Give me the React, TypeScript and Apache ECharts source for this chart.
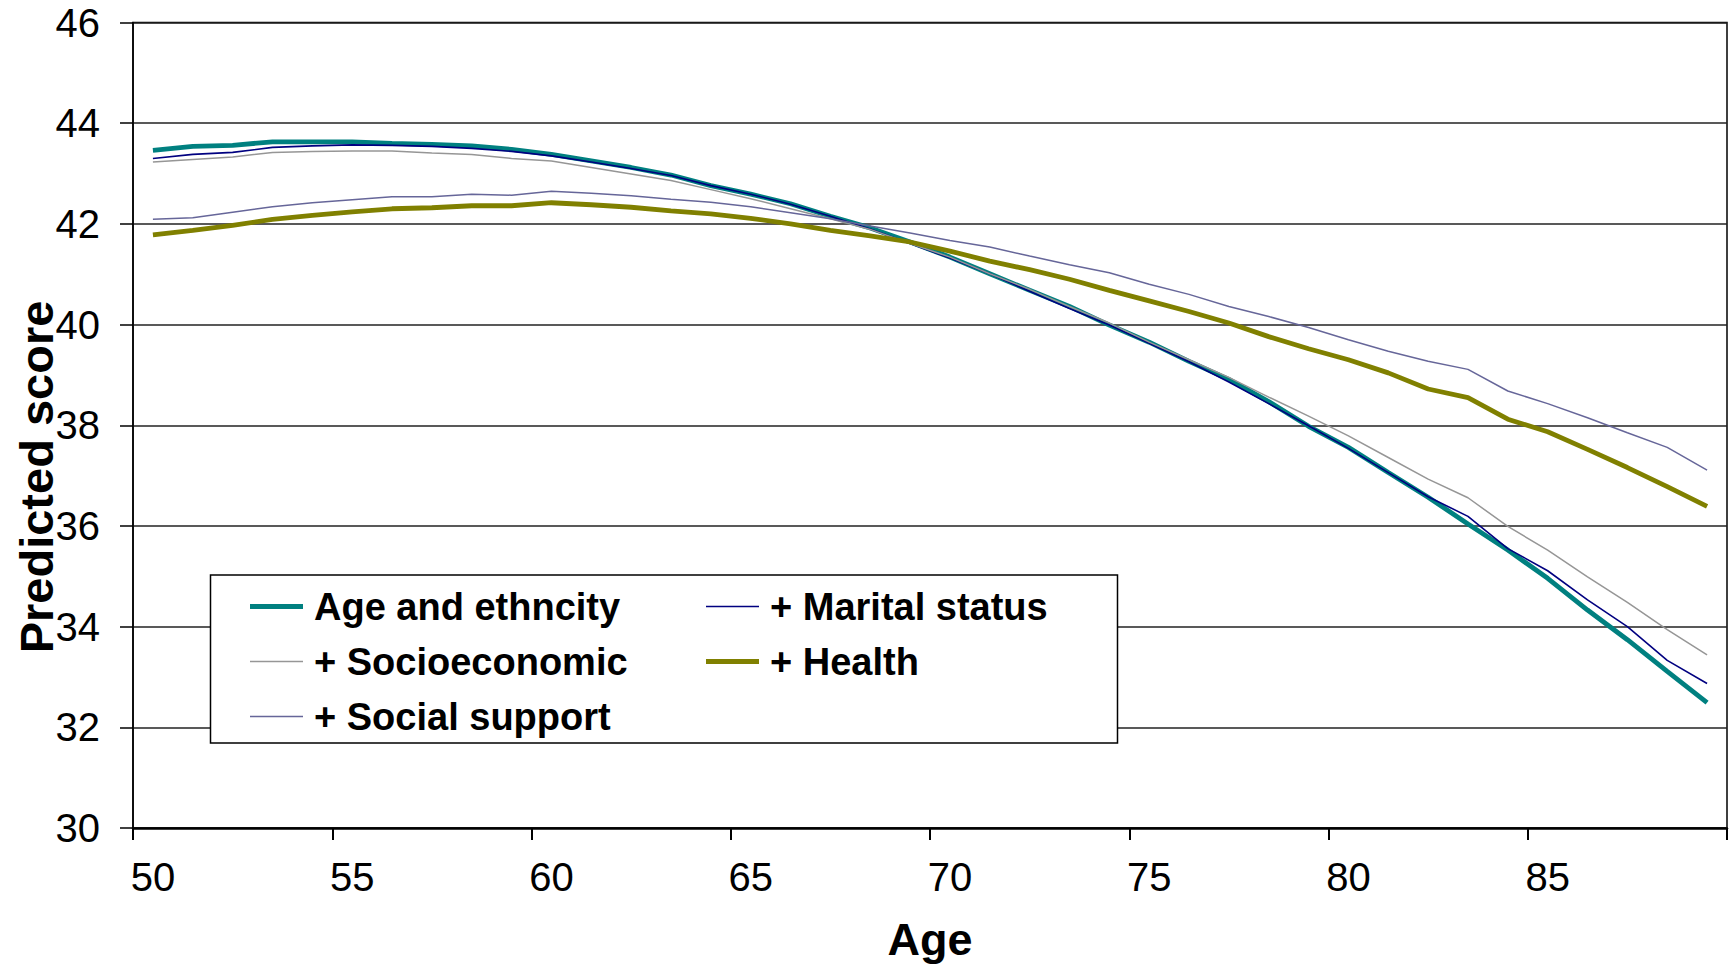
import React, { useEffect, useRef } from "react";
import * as echarts from "echarts";

const FONT = '"Liberation Sans", Arial, Helvetica, sans-serif';

// Ages on the category axis
const ages = [
  "50", "51", "52", "53", "54", "55", "56", "57", "58", "59",
  "60", "61", "62", "63", "64", "65", "66", "67", "68", "69",
  "70", "71", "72", "73", "74", "75", "76", "77", "78", "79",
  "80", "81", "82", "83", "84", "85", "86", "87", "88", "89",
];

// Predicted scores for each model
const ageEthnicity = [
  43.46, 43.54, 43.56, 43.63, 43.63, 43.63, 43.60, 43.58, 43.55, 43.48,
  43.38, 43.25, 43.12, 42.97, 42.76, 42.59, 42.40, 42.15, 41.92, 41.64,
  41.34, 41.01, 40.68, 40.36, 39.99, 39.65, 39.27, 38.91, 38.47, 37.98,
  37.56, 37.06, 36.57, 36.04, 35.52, 34.96, 34.33, 33.74, 33.11, 32.49,
];
const maritalStatus = [
  43.30, 43.38, 43.42, 43.52, 43.55, 43.57, 43.56, 43.54, 43.50, 43.44,
  43.35, 43.23, 43.10, 42.96, 42.76, 42.59, 42.39, 42.15, 41.90, 41.61,
  41.32, 41.01, 40.66, 40.32, 39.99, 39.63, 39.26, 38.86, 38.43, 37.99,
  37.54, 37.06, 36.58, 36.19, 35.55, 35.11, 34.53, 34.00, 33.33, 32.87,
];
const socioeconomic = [
  43.23, 43.28, 43.33, 43.42, 43.44, 43.45, 43.45, 43.41, 43.38, 43.30,
  43.25, 43.12, 42.99, 42.86, 42.68, 42.50, 42.30, 42.10, 41.89, 41.61,
  41.34, 41.01, 40.70, 40.36, 40.03, 39.65, 39.30, 38.95, 38.56, 38.18,
  37.79, 37.36, 36.93, 36.56, 35.99, 35.52, 34.99, 34.48, 33.94, 33.44,
];
const health = [
  41.78, 41.87, 41.97, 42.09, 42.17, 42.24, 42.30, 42.32, 42.36, 42.36,
  42.42, 42.38, 42.33, 42.26, 42.20, 42.11, 42.00, 41.87, 41.76, 41.64,
  41.46, 41.26, 41.09, 40.90, 40.68, 40.47, 40.26, 40.03, 39.76, 39.52,
  39.30, 39.04, 38.72, 38.55, 38.12, 37.87, 37.52, 37.16, 36.78, 36.39,
];
const socialSupport = [
  42.09, 42.12, 42.23, 42.34, 42.42, 42.48, 42.54, 42.54, 42.59, 42.57,
  42.65, 42.61, 42.56, 42.49, 42.43, 42.34, 42.22, 42.10, 41.96, 41.82,
  41.67, 41.54, 41.36, 41.19, 41.03, 40.80, 40.60, 40.36, 40.16, 39.94,
  39.70, 39.47, 39.27, 39.11, 38.68, 38.43, 38.15, 37.85, 37.56, 37.11,
];

const seriesNames = [
  "Age and ethncity",
  "+ Marital status",
  "+ Socioeconomic",
  "+ Health",
  "+ Social support",
];
const seriesData = [ageEthnicity, maritalStatus, socioeconomic, health, socialSupport];
const seriesColors = ["#008080", "#000080", "#969696", "#808000", "#666699"];
const seriesWidths = [4.8, 1.6, 1.5, 4.8, 1.5];

// Legend slots: [column x of the sample line, row y]
const legendSlots: [number, number][] = [
  [250, 606.5],
  [706, 606.5],
  [250, 661.5],
  [706, 661.5],
  [250, 716.5],
];

export default function App() {
  const ref = useRef<HTMLDivElement>(null);

  useEffect(() => {
    if (!ref.current) return;
    const chart = echarts.init(ref.current, undefined, { renderer: "svg" });

    const legendGraphics: any[] = [
      {
        type: "rect",
        z: 10,
        shape: { x: 210.5, y: 575, width: 907, height: 168 },
        style: { fill: "#ffffff", stroke: "#000000", lineWidth: 1.5 },
      },
    ];
    seriesNames.forEach((name, i) => {
      const [lx, ly] = legendSlots[i];
      legendGraphics.push({
        type: "line",
        z: 11,
        shape: { x1: lx, y1: ly, x2: lx + 53, y2: ly },
        style: { stroke: seriesColors[i], lineWidth: seriesWidths[i] },
      });
      legendGraphics.push({
        type: "text",
        z: 11,
        x: lx + 64,
        y: ly,
        style: {
          text: name,
          font: `bold 38px ${FONT}`,
          fill: "#000",
          align: "left",
          verticalAlign: "middle",
        },
      });
    });

    chart.setOption({
      animation: false,
      backgroundColor: "#ffffff",
      grid: {
        left: 133,
        right: 8,
        top: 22.5,
        bottom: 134,
        show: true,
        borderColor: "#000",
        borderWidth: 1.5,
        backgroundColor: "#ffffff",
      },
      xAxis: {
        type: "category",
        data: ages,
        boundaryGap: true,
        axisLine: { lineStyle: { color: "#000", width: 2.5 } },
        axisTick: { show: true, interval: 4, length: 12, lineStyle: { color: "#000", width: 2 } },
        axisLabel: { interval: 4, fontSize: 40, color: "#000", fontFamily: FONT, margin: 29 },
        splitLine: { show: false },
        name: "Age",
        nameLocation: "middle",
        nameGap: 89,
        nameTextStyle: { fontSize: 45, fontWeight: "bold", color: "#000", fontFamily: FONT },
      },
      yAxis: {
        type: "value",
        min: 30,
        max: 46,
        interval: 2,
        axisLine: { show: true, lineStyle: { color: "#000", width: 1.5 } },
        axisTick: { show: true, length: 13, lineStyle: { color: "#000", width: 1.5 } },
        axisLabel: { fontSize: 40, color: "#000", fontFamily: FONT, margin: 33 },
        splitLine: { show: true, lineStyle: { color: "#222", width: 1.5 } },
      },
      series: seriesNames.map((name, i) => ({
        name,
        type: "line",
        data: seriesData[i],
        symbol: "none",
        smooth: false,
        lineStyle: { color: seriesColors[i], width: seriesWidths[i] },
        itemStyle: { color: seriesColors[i] },
        z: 2 + i,
      })),
      graphic: [
        ...legendGraphics,
        {
          type: "text",
          x: 36,
          y: 477,
          rotation: Math.PI / 2,
          style: {
            text: "Predicted score",
            font: `bold 47px ${FONT}`,
            fill: "#000",
            align: "center",
            verticalAlign: "middle",
          },
        },
      ],
    });

    return () => chart.dispose();
  }, []);

  return (
    <div
      ref={ref}
      style={{ position: "fixed", left: 0, top: 0, width: 1735, height: 967, background: "#fff" }}
    />
  );
}
